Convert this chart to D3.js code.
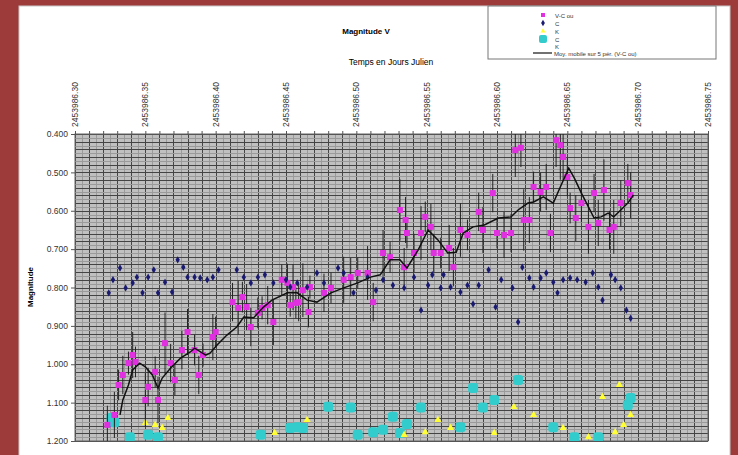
<!DOCTYPE html>
<html>
<head>
<meta charset="utf-8">
<script src="https://cdn.jsdelivr.net/npm/d3@7"></script>
<style>
  body { margin: 0; background: #9d3b3b; }
  svg { display: block; font-family: "Liberation Sans", Arial, sans-serif; }
</style>
</head>
<body>
<script>
// julian day base, times below are the fraction after it
var JD0 = 2453986;
var xTicks = [0.30, 0.35, 0.40, 0.45, 0.50, 0.55, 0.60, 0.65, 0.70, 0.75];
var yTicks = [0.4, 0.5, 0.6, 0.7, 0.8, 0.9, 1.0, 1.1, 1.2];

// V-C (magenta) with error bars
var vcTime = [0.323, 0.328, 0.331, 0.334, 0.338, 0.341, 0.343, 0.350, 0.352, 0.357,
  0.359, 0.364, 0.368, 0.371, 0.376, 0.380, 0.385, 0.388, 0.391, 0.398,
  0.400, 0.412, 0.416, 0.419, 0.422, 0.425, 0.430, 0.433, 0.437, 0.441,
  0.447, 0.451, 0.453, 0.455, 0.457, 0.459, 0.462, 0.466, 0.467, 0.477,
  0.482, 0.491, 0.496, 0.501, 0.508, 0.512, 0.519, 0.524, 0.531, 0.534,
  0.535, 0.536, 0.541, 0.546, 0.549, 0.553, 0.555, 0.560, 0.566, 0.569,
  0.574, 0.579, 0.587, 0.590, 0.597, 0.600, 0.605, 0.610, 0.613, 0.617,
  0.619, 0.623, 0.626, 0.631, 0.635, 0.638, 0.642, 0.645, 0.647, 0.650,
  0.652, 0.656, 0.660, 0.665, 0.669, 0.672, 0.676, 0.680, 0.683, 0.688,
  0.693, 0.695];
var vcMag = [1.158, 1.132, 1.054, 1.028, 0.997, 0.976, 0.994, 1.093, 1.059, 1.020,
  1.093, 0.945, 0.997, 1.041, 0.963, 0.916, 0.963, 1.028, 0.976, 0.929,
  0.916, 0.838, 0.853, 0.825, 0.851, 0.903, 0.866, 0.853, 0.846, 0.890,
  0.780, 0.788, 0.846, 0.799, 0.840, 0.838, 0.807, 0.864, 0.799, 0.814,
  0.801, 0.780, 0.773, 0.762, 0.762, 0.838, 0.710, 0.721, 0.598, 0.747,
  0.624, 0.658, 0.710, 0.658, 0.616, 0.642, 0.710, 0.710, 0.697, 0.747,
  0.650, 0.663, 0.603, 0.650, 0.554, 0.658, 0.663, 0.658, 0.442, 0.436,
  0.624, 0.624, 0.538, 0.551, 0.538, 0.658, 0.416, 0.429, 0.460, 0.512,
  0.593, 0.619, 0.580, 0.642, 0.554, 0.632, 0.546, 0.650, 0.642, 0.580,
  0.528, 0.559];
var vcErr = [0.05, 0.06, 0.04, 0.05, 0.03, 0.06, 0.04, 0.07, 0.05, 0.04,
  0.06, 0.08, 0.05, 0.04, 0.05, 0.06, 0.04, 0.05, 0.03, 0.06,
  0.04, 0.05, 0.07, 0.04, 0.06, 0.05, 0.04, 0.03, 0.05, 0.06,
  0.04, 0.05, 0.03, 0.06, 0.04, 0.05, 0.07, 0.04, 0.03, 0.05,
  0.04, 0.06, 0.05, 0.04, 0.07, 0.05, 0.06, 0.04, 0.08, 0.05,
  0.06, 0.04, 0.05, 0.07, 0.04, 0.06, 0.05, 0.04, 0.06, 0.05,
  0.07, 0.04, 0.05, 0.06, 0.05, 0.04, 0.06, 0.05, 0.07, 0.05,
  0.08, 0.06, 0.04, 0.05, 0.06, 0.05, 0.07, 0.09, 0.06, 0.05,
  0.04, 0.06, 0.05, 0.07, 0.05, 0.06, 0.08, 0.05, 0.07, 0.06,
  0.05, 0.06];

// C (navy)
var cTime = [0.324, 0.327, 0.332, 0.336, 0.341, 0.344, 0.348, 0.352, 0.356, 0.359,
  0.364, 0.369, 0.373, 0.377, 0.380, 0.385, 0.389, 0.394, 0.398, 0.402,
  0.415, 0.420, 0.425, 0.430, 0.435, 0.441, 0.450, 0.453, 0.458, 0.465,
  0.472, 0.477, 0.487, 0.491, 0.498, 0.508, 0.514, 0.519, 0.526, 0.534,
  0.541, 0.546, 0.551, 0.554, 0.560, 0.562, 0.567, 0.574, 0.579, 0.583,
  0.587, 0.594, 0.599, 0.603, 0.611, 0.615, 0.618, 0.623, 0.626, 0.631,
  0.635, 0.640, 0.643, 0.647, 0.652, 0.657, 0.663, 0.668, 0.672, 0.675,
  0.681, 0.684, 0.688, 0.692, 0.695];
var cMag = [0.814, 0.780, 0.749, 0.801, 0.788, 0.773, 0.814, 0.773, 0.754, 0.814,
  0.786, 0.812, 0.728, 0.747, 0.773, 0.773, 0.775, 0.780, 0.773, 0.754,
  0.754, 0.773, 0.788, 0.773, 0.767, 0.788, 0.780, 0.799, 0.788, 0.799,
  0.762, 0.788, 0.749, 0.762, 0.814, 0.773, 0.807, 0.780, 0.794, 0.801,
  0.773, 0.859, 0.794, 0.767, 0.801, 0.767, 0.799, 0.812, 0.794, 0.843,
  0.794, 0.754, 0.851, 0.780, 0.801, 0.890, 0.747, 0.775, 0.799, 0.775,
  0.762, 0.786, 0.814, 0.780, 0.775, 0.780, 0.786, 0.762, 0.799, 0.833,
  0.767, 0.780, 0.801, 0.859, 0.880];

// K (yellow)
var kTime = [0.350, 0.357, 0.362, 0.366, 0.442, 0.465, 0.534, 0.549, 0.558, 0.567,
  0.598, 0.612, 0.626, 0.647, 0.665, 0.675, 0.684, 0.687, 0.690, 0.695];
var kMag = [1.153, 1.158, 1.166, 1.140, 1.179, 1.145, 1.184, 1.177, 1.145, 1.166,
  1.179, 1.111, 1.132, 1.166, 1.190, 1.085, 1.177, 1.054, 1.158, 1.132];

// C2 (cyan)
var c2Time = [0.326, 0.328, 0.339, 0.352, 0.359, 0.432, 0.453, 0.458, 0.462, 0.480,
  0.496, 0.501, 0.512, 0.519, 0.526, 0.531, 0.536, 0.546, 0.574, 0.583,
  0.590, 0.598, 0.615, 0.640, 0.655, 0.672, 0.693, 0.695];
var c2Mag = [1.140, 1.151, 1.190, 1.184, 1.190, 1.184, 1.166, 1.164, 1.166, 1.111,
  1.113, 1.184, 1.177, 1.171, 1.137, 1.179, 1.156, 1.113, 1.164, 1.062,
  1.113, 1.093, 1.041, 1.164, 1.190, 1.190, 1.106, 1.088];

// moving average over 5 periods of V-C, as drawn
var maTime = [0.332, 0.334, 0.338, 0.341, 0.346, 0.350, 0.355, 0.359, 0.362, 0.368,
  0.375, 0.382, 0.385, 0.393, 0.396, 0.401, 0.408, 0.415, 0.420, 0.427,
  0.434, 0.440, 0.451, 0.458, 0.465, 0.472, 0.482, 0.491, 0.501, 0.510,
  0.517, 0.524, 0.531, 0.536, 0.544, 0.551, 0.558, 0.565, 0.571, 0.576,
  0.583, 0.591, 0.601, 0.610, 0.615, 0.622, 0.626, 0.633, 0.640, 0.645,
  0.651, 0.655, 0.660, 0.665, 0.669, 0.674, 0.679, 0.683, 0.688, 0.693,
  0.697];
var maMag = [1.132, 1.093, 1.054, 1.015, 0.997, 1.007, 1.028, 1.062, 1.036, 1.010,
  0.984, 0.968, 0.958, 0.976, 0.971, 0.950, 0.924, 0.903, 0.877, 0.879,
  0.851, 0.833, 0.814, 0.814, 0.833, 0.838, 0.814, 0.801, 0.788, 0.773,
  0.767, 0.728, 0.728, 0.749, 0.702, 0.650, 0.676, 0.710, 0.708, 0.658,
  0.642, 0.637, 0.619, 0.616, 0.598, 0.580, 0.577, 0.564, 0.580, 0.538,
  0.489, 0.515, 0.554, 0.590, 0.619, 0.616, 0.606, 0.616, 0.598, 0.580,
  0.559];

var legendNames = ["V-C ou", "C", "K", "C", "K", "Moy. mobile sur 5 pér. (V-C ou)"];

var W = 738, H = 455;
var margin = { top: 134, right: 30, bottom: 14, left: 75 };
var width = W - margin.left - margin.right;
var height = H - margin.top - margin.bottom;

var svg = d3.select("body").append("svg").attr("width", W).attr("height", H);

// white chart area
svg.append("rect").attr("x", 19).attr("y", 6).attr("width", 711).attr("height", 470)
  .attr("fill", "#fff").attr("stroke", "#c8c8c8");

var g = svg.append("g").attr("transform", "translate(" + margin.left + "," + margin.top + ")");

var x = d3.scaleLinear().domain([0.30, 0.75]).range([0, width]);
var y = d3.scaleLinear().domain([0.4, 1.2]).range([0, height]);

g.append("rect").attr("width", width).attr("height", height).attr("fill", "#c0c0c0");

// grid: light then dark lines
g.append("g").selectAll("line").data(d3.range(0, 91).map(function (i) { return 0.30 + i * 0.005; }))
  .enter().append("line")
  .attr("x1", function (d) { return Math.round(x(d)) + 0.5; })
  .attr("x2", function (d) { return Math.round(x(d)) + 0.5; })
  .attr("y1", 0).attr("y2", height)
  .attr("stroke", function (d, i) { return i % 2 ? "#9a9a9a" : "#444"; });
g.append("g").selectAll("line").data(d3.range(0, 81).map(function (i) { return 0.4 + i * 0.01; }))
  .enter().append("line")
  .attr("y1", function (d) { return Math.round(y(d)) + 0.5; })
  .attr("y2", function (d) { return Math.round(y(d)) + 0.5; })
  .attr("x1", 0).attr("x2", width)
  .attr("stroke", function (d, i) { return i % 2 ? "#9a9a9a" : "#444"; });

g.append("rect").attr("width", width).attr("height", height)
  .attr("fill", "none").attr("stroke", "#666");

// axes
var xAxis = g.append("g")
  .call(d3.axisTop(x).tickValues(d3.range(0, 46).map(function (i) { return 0.30 + i * 0.01; }))
    .tickSize(3).tickFormat(""));
xAxis.select(".domain").attr("stroke", "#555");
xAxis.selectAll(".tick line").attr("stroke", "#555");

g.append("g").selectAll("text").data(xTicks).enter().append("text")
  .attr("transform", function (d) { return "translate(" + (x(d) + 3) + ",-7) rotate(-90)"; })
  .attr("font-size", "8.5px").attr("fill", "#333")
  .text(function (d) { return (JD0 + d).toFixed(2); });

var yAxis = g.append("g")
  .call(d3.axisLeft(y).tickValues(yTicks).tickSize(4).tickFormat(d3.format(".3f")));
yAxis.select(".domain").remove();
yAxis.selectAll(".tick line").attr("stroke", "#555");
yAxis.selectAll("text").attr("font-size", "8.5px").attr("fill", "#333")
  .attr("font-family", "Liberation Sans, Arial, sans-serif");

// titles
svg.append("text").attr("x", 366).attr("y", 34).attr("text-anchor", "middle")
  .attr("font-size", "8px").attr("font-weight", "bold").text("Magnitude V");
svg.append("text").attr("x", 391).attr("y", 65).attr("text-anchor", "middle")
  .attr("font-size", "8.5px").text("Temps en Jours Julien");
svg.append("text").attr("transform", "translate(33,287) rotate(-90)").attr("text-anchor", "middle")
  .attr("font-size", "8px").attr("font-weight", "bold").text("Magnitude");

// data
g.append("clipPath").attr("id", "clip").append("rect").attr("width", width).attr("height", height);
var plot = g.append("g").attr("clip-path", "url(#clip)");

var kData = kTime.map(function (t, i) { return { t: t, m: kMag[i] }; });
var c2Data = c2Time.map(function (t, i) { return { t: t, m: c2Mag[i] }; });
var cData = cTime.map(function (t, i) { return { t: t, m: cMag[i] }; });
var vcData = vcTime.map(function (t, i) { return { t: t, m: vcMag[i], e: vcErr[i] }; });
var maData = maTime.map(function (t, i) { return { t: t, m: maMag[i] }; });

plot.selectAll(".c2").data(c2Data).enter().append("rect").attr("class", "c2")
  .attr("x", function (d) { return x(d.t) - 5; }).attr("y", function (d) { return y(d.m) - 5; })
  .attr("width", 10).attr("height", 10).attr("rx", 3)
  .attr("fill", "#33cccc");

plot.selectAll(".k").data(kData).enter().append("path").attr("class", "k")
  .attr("transform", function (d) { return "translate(" + x(d.t) + "," + y(d.m) + ")"; })
  .attr("d", d3.symbol(d3.symbolTriangle, 22))
  .attr("fill", "#ffff33");

plot.selectAll(".err").data(vcData).enter().append("line").attr("class", "err")
  .attr("x1", function (d) { return x(d.t); }).attr("x2", function (d) { return x(d.t); })
  .attr("y1", function (d) { return y(d.m - d.e); }).attr("y2", function (d) { return y(d.m + d.e); })
  .attr("stroke", "#222").attr("stroke-width", 1);

plot.selectAll(".vc").data(vcData).enter().append("rect").attr("class", "vc")
  .attr("x", function (d) { return x(d.t) - 3; }).attr("y", function (d) { return y(d.m) - 3; })
  .attr("width", 6).attr("height", 6).attr("fill", "#e030e0");

plot.selectAll(".c").data(cData).enter().append("path").attr("class", "c")
  .attr("transform", function (d) { return "translate(" + x(d.t) + "," + y(d.m) + ")"; })
  .attr("d", d3.symbol(d3.symbolDiamond, 16))
  .attr("fill", "#1a1a70");

plot.append("path").datum(maData)
  .attr("d", d3.line().x(function (d) { return x(d.t); }).y(function (d) { return y(d.m); }))
  .attr("fill", "none").attr("stroke", "#111").attr("stroke-width", 1.5);

// legend
var leg = svg.append("g");
leg.append("rect").attr("x", 488).attr("y", 6).attr("width", 228).attr("height", 53)
  .attr("fill", "#fff").attr("stroke", "#777");
var legY = [15, 23, 31, 39, 46, 53];
leg.append("rect").attr("x", 541).attr("y", legY[0] - 2).attr("width", 4).attr("height", 4).attr("fill", "#e030e0");
leg.append("path").attr("transform", "translate(543," + legY[1] + ")").attr("d", d3.symbol(d3.symbolDiamond, 12)).attr("fill", "#1a1a70");
leg.append("path").attr("transform", "translate(543," + legY[2] + ")").attr("d", d3.symbol(d3.symbolTriangle, 10)).attr("fill", "#ffff33");
leg.append("rect").attr("x", 539).attr("y", legY[3] - 4).attr("width", 8).attr("height", 8).attr("rx", 2).attr("fill", "#33cccc");
leg.append("line").attr("x1", 533).attr("x2", 552).attr("y1", legY[5]).attr("y2", legY[5]).attr("stroke", "#111").attr("stroke-width", 1.2);
leg.selectAll("text").data(legendNames).enter().append("text")
  .attr("x", function (d, i) { return i === 5 ? 554 : 555; })
  .attr("y", function (d, i) { return legY[i] + 2.5; })
  .attr("font-size", "6px").attr("fill", "#333")
  .text(function (d) { return d; });
</script>
</body>
</html>
